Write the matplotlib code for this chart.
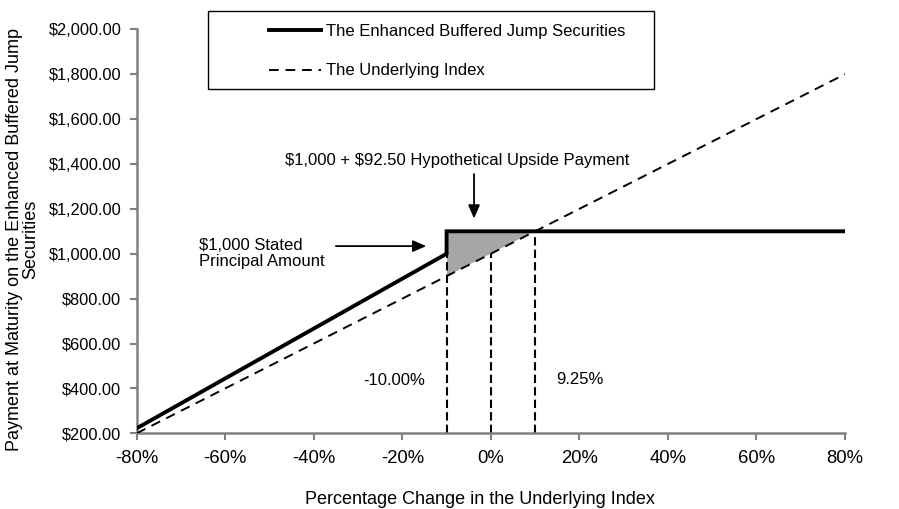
import matplotlib
matplotlib.use("Agg")
import matplotlib.pyplot as plt
from matplotlib.patches import Rectangle, Polygon
from matplotlib.ticker import FuncFormatter

plt.rcParams['font.family'] = ['Liberation Sans', 'DejaVu Sans']
plt.rcParams['text.parse_math'] = False

# ---- data ----
sec_x = [-80, -10, -10, 10, 80]
sec_y = [222.22, 1000, 1100, 1100, 1100]
idx_x = [-80, 80]
idx_y = [200, 1800]
vline_x = [-10, 0, 10]
vline_top = [1000, 1000, 1100]
shade_x = [-10, -10, 10]
shade_y = [900, 1100, 1100]
x_ticks = [-80, -60, -40, -20, 0, 20, 40, 60, 80]
y_ticks = [200, 400, 600, 800, 1000, 1200, 1400, 1600, 1800, 2000]
series_labels = ["The Enhanced Buffered Jump Securities", "The Underlying Index"]

FS = 12
GRAY = "#808080"

fig = plt.figure(figsize=(8.99, 5.09), dpi=100)
ax = fig.add_axes([136.7/899, 1-433.3/509, (845-136.7)/899, (433.3-29.3)/509])

ax.set_xlim(-80, 80)
ax.set_ylim(200, 2000)

# shaded triangle
ax.add_patch(Polygon(list(zip(shade_x, shade_y)), closed=True,
                     facecolor="#a6a6a6", edgecolor="none", zorder=1))

# vertical dashed markers
for vx, vt in zip(vline_x, vline_top):
    ax.plot([vx, vx], [200, vt], color="black", lw=1.5,
            dashes=(4, 2), zorder=2, clip_on=False)

ln1, = ax.plot(sec_x, sec_y, color="black", lw=2.8, zorder=4,
               solid_joinstyle="miter", label=series_labels[0])
ln2, = ax.plot(idx_x, idx_y, color="black", lw=1.4, dashes=(5, 3.5),
               zorder=3, label=series_labels[1])

# axes styling
for s in ["top", "right"]:
    ax.spines[s].set_visible(False)
for s in ["left", "bottom"]:
    ax.spines[s].set_color(GRAY)
    ax.spines[s].set_linewidth(1.8)
ax.tick_params(axis="both", colors=GRAY, length=5, width=1.5,
               labelcolor="black", direction="out")
ax.tick_params(axis="x", pad=7, labelsize=13.3)
ax.tick_params(axis="y", pad=6, labelsize=11.8)
ax.set_xticks(x_ticks)
ax.set_yticks(y_ticks)
ax.xaxis.set_major_formatter(FuncFormatter(lambda v, p: f"{v:.0f}%"))
ax.yaxis.set_major_formatter(FuncFormatter(lambda v, p: f"${v:,.2f}"))

ax.set_xlabel("Percentage Change in the Underlying Index", fontsize=13)
ax.xaxis.set_label_coords(0.485, -0.142)
ax.set_ylabel("Payment at Maturity on the Enhanced Buffered Jump\nSecurities",
              fontsize=13, linespacing=0.92)
ax.yaxis.set_label_coords(-0.138, 0.48)

# annotations
ax.text(-7.5, 1415, "$1,000 + $92.50 Hypothetical Upside Payment",
        ha="center", va="center", fontsize=FS)
ax.annotate("", xy=(-3.8, 1157), xytext=(-3.8, 1355),
            arrowprops=dict(arrowstyle="-|>,head_length=0.8,head_width=0.35",
                            color="black", lw=1.3, shrinkA=0, shrinkB=0))
ax.text(-66, 1000, "$1,000 Stated\nPrincipal Amount", ha="left", va="center",
        fontsize=FS, linespacing=1.1)
ax.annotate("", xy=(-14.6, 1034), xytext=(-35, 1034),
            arrowprops=dict(arrowstyle="-|>,head_length=0.8,head_width=0.35",
                            color="black", lw=1.3, shrinkA=0, shrinkB=0))
ax.text(-21.8, 435, "-10.00%", ha="center", va="center", fontsize=FS)
ax.text(20.2, 440, "9.25%", ha="center", va="center", fontsize=FS)

# legend with box
fig.patches.append(Rectangle((208/899, 1-89/509), (654-208)/899, (89-11)/509,
                             transform=fig.transFigure, facecolor="white",
                             edgecolor="black", lw=1.0, zorder=5))
leg = fig.legend(handles=[ln1, ln2], labels=series_labels, loc="upper left",
                 bbox_to_anchor=(266/899, 1-21/509), frameon=False,
                 fontsize=FS, handlelength=3.1, handletextpad=0.3,
                 labelspacing=1.45, borderpad=0.2, borderaxespad=0)
leg.set_zorder(6)

fig.savefig("out.png", dpi=100)
